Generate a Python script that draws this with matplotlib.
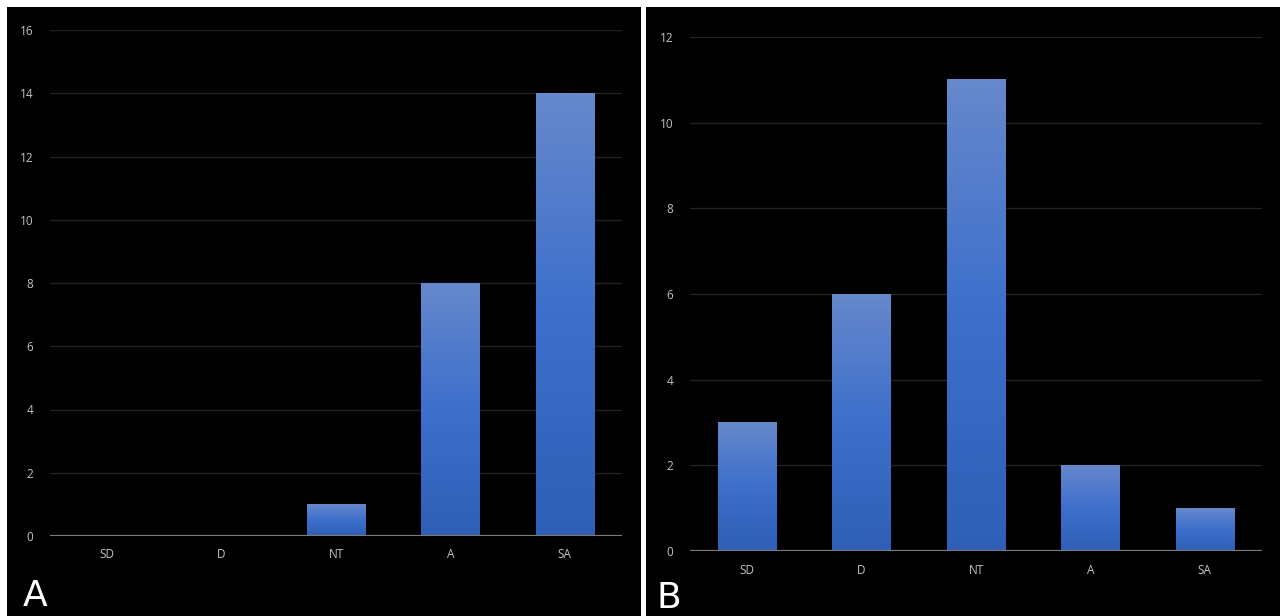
import numpy as np
import matplotlib.pyplot as plt
from matplotlib.colors import LinearSegmentedColormap

categories = ['SD', 'D', 'NT', 'A', 'SA']
counts_a = [0, 0, 1, 8, 14]
counts_b = [3, 6, 11, 2, 1]

W, H = 1280, 616
plt.rcParams['font.family'] = ['Open Sans', 'DejaVu Sans']
fig = plt.figure(figsize=(W / 100, H / 100), dpi=100, facecolor='white')

# top = light blue, bottom = deeper blue
bar_cmap = LinearSegmentedColormap.from_list('barfade', ['#2f5fb6', '#3d6fcb', '#6688cc'])
grad = np.linspace(0, 1, 256).reshape(-1, 1)


def px(x0, y0, x1, y1):
    # pixel box (top-left origin) -> figure fraction rect
    return [x0 / W, 1 - y1 / H, (x1 - x0) / W, (y1 - y0) / H]


def panel(bg_box, ax_box, values, ymax, letter, letter_xy):
    bg = fig.add_axes(px(*bg_box))
    bg.set_facecolor('black')
    bg.set_xticks([])
    bg.set_yticks([])
    for s in bg.spines.values():
        s.set_visible(False)

    ax = fig.add_axes(px(*ax_box))
    ax.set_facecolor('none')
    x = np.arange(len(categories))
    bars = ax.bar(x, values, width=0.51, color='none', zorder=2)
    for b in bars:
        h = b.get_height()
        if h <= 0:
            continue
        x0 = b.get_x()
        ax.imshow(grad, extent=[x0, x0 + b.get_width(), 0, h], origin='lower',
                  cmap=bar_cmap, aspect='auto', zorder=2)
    ax.set_xlim(-0.5, len(categories) - 0.5)
    ax.set_ylim(0, ymax)
    ax.set_yticks(np.arange(0, ymax + 1, 2))
    ax.yaxis.grid(True, color='#222222', linewidth=1.0, zorder=0)
    ax.axhline(0, color='#7a7a7a', linewidth=1.6, zorder=3)
    ax.set_xticks(x)
    ax.set_xticklabels(categories)
    ax.tick_params(length=0, colors='#c4c4c4', labelsize=8.5)
    ax.tick_params(axis='y', pad=12)
    ax.tick_params(axis='x', pad=9)
    for s in ax.spines.values():
        s.set_visible(False)

    fig.text(letter_xy[0] / W, 1 - letter_xy[1] / H, letter, color='white',
             fontsize=26, ha='left', va='baseline', family='DejaVu Sans')


panel((7, 7, 641, 616), (50, 30, 622, 536), counts_a, 16, 'A', (23, 606))
panel((646, 7, 1280, 616), (690, 37, 1262, 551), counts_b, 12, 'B', (657, 608))

fig.savefig('out.png', dpi=100, facecolor='white')
